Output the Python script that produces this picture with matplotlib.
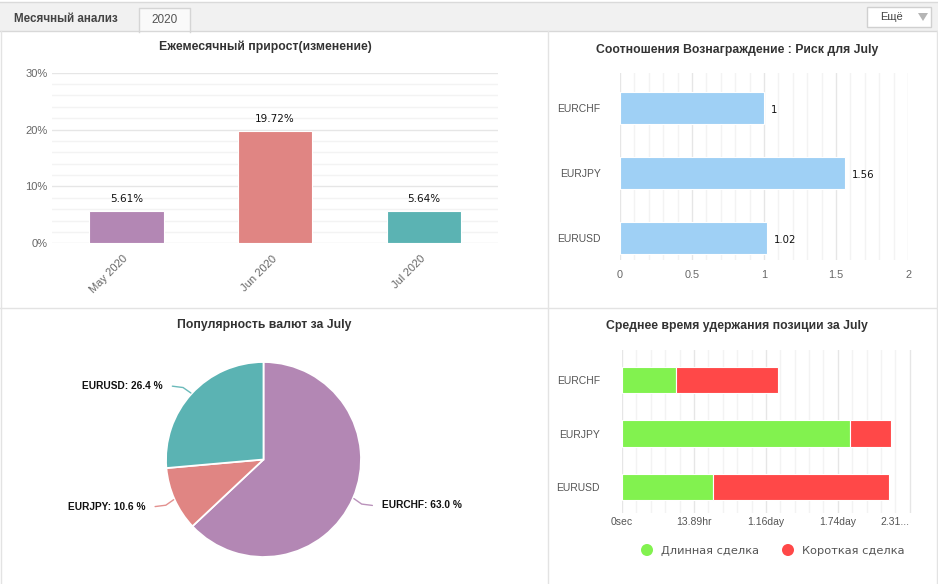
import numpy as np
import matplotlib
matplotlib.use("Agg")
import matplotlib.pyplot as plt
from matplotlib.patches import Rectangle, Polygon, Circle

# ---------------- data ----------------
months = ['May 2020', 'Jun 2020', 'Jul 2020']
growth_pct = [5.61, 19.72, 5.64]
growth_colors = ['#B387B4', '#E08583', '#5BB3B3']
growth_yticks = [0, 10, 20, 30]

rr_pairs = ['EURCHF', 'EURJPY', 'EURUSD']
rr_values = [1, 1.56, 1.02]
rr_labels = ['1', '1.56', '1.02']
rr_xticks = [0, 0.5, 1, 1.5, 2]
rr_xticklabels = ['0', '0.5', '1', '1.5', '2']

pie_pairs = ['EURCHF', 'EURJPY', 'EURUSD']
pie_share = [63.0, 10.6, 26.4]
pie_colors = ['#B387B4', '#E08583', '#5BB3B3']

hold_pairs = ['EURCHF', 'EURJPY', 'EURUSD']
hold_long_hr = [10.4, 44.0, 17.6]
hold_short_hr = [19.7, 7.9, 34.0]
hold_ticks_hr = [0, 13.89, 27.78, 41.67, 55.56]
hold_ticklabels = ['0sec', '13.89hr', '1.16day', '1.74day', '2.31...']
legend_names = ['Длинная сделка', 'Короткая сделка']
long_color = '#82F24F'
short_color = '#FF4848'

# ---------------- figure ----------------
W, H = 938, 584
fig = plt.figure(figsize=(W / 100, H / 100), dpi=100)
fig.patch.set_facecolor('white')

SANS = ['Liberation Sans', 'DejaVu Sans']


def box(x0, y0, x1, y1):
    return [x0 / W, 1 - y1 / H, (x1 - x0) / W, (y1 - y0) / H]


# background / frame axes
bg = fig.add_axes([0, 0, 1, 1], zorder=0)
bg.set_xlim(0, W)
bg.set_ylim(H, 0)
bg.axis('off')

bg.add_patch(Rectangle((0, 2), W, 29, facecolor='#F1F1F1', edgecolor='none'))
bg.plot([0, W], [2, 2], color='#DADADA', lw=1)
bg.plot([0, W], [31, 31], color='#D8D8D8', lw=1)
# tab
bg.add_patch(Rectangle((139, 8), 51, 24, facecolor='#FAFAFA', edgecolor='none'))
bg.plot([139, 139, 190, 190], [32, 8, 8, 32], color='#D5D5D5', lw=1)
bg.text(165, 20, '2020', ha='center', va='center', fontsize=8.5, color='#555555', family=SANS)
bg.text(14, 19, 'Месячный анализ', ha='left', va='center', fontsize=8.4,
        color='#444444', family=SANS, fontweight='bold')
# Ещё button
bg.add_patch(Rectangle((867, 7), 64, 20, facecolor='white', edgecolor='#D0D0D0', lw=1))
bg.text(880, 17, 'Ещё', ha='left', va='center', fontsize=8, color='#444444', family=SANS)
bg.add_patch(Polygon([[918, 13], [928, 13], [923, 21]], closed=True, facecolor='#B5B5B5', edgecolor='none'))
# outer borders and separators
bg.plot([1, 1], [31, H], color='#E3E3E3', lw=1)
bg.plot([937, 937], [31, H], color='#E3E3E3', lw=1)
bg.plot([548, 548], [31, H], color='#E3E3E3', lw=1)
bg.plot([0, W], [308, 308], color='#E3E3E3', lw=1)

# titles
tkw = dict(ha='center', va='center', fontsize=8.8, fontweight='bold', color='#333333', family=SANS)
bg.text(265, 47, 'Ежемесячный прирост(изменение)', **tkw)
bg.text(737, 50, 'Соотношения Вознаграждение : Риск для July', **tkw)
bg.text(264, 325, 'Популярность валют за July', **tkw)
bg.text(737, 326, 'Среднее время удержания позиции за July', **tkw)

# ---------------- chart 1: monthly growth ----------------
ax1 = fig.add_axes(box(52, 72.7, 498, 243.3), zorder=1)
ax1.set_facecolor('none')
x = np.arange(len(months))
ax1.set_xlim(-0.5, len(months) - 0.5)
ax1.set_ylim(0, 30)
for v in np.arange(0, 31, 2):
    major = (v % 10 == 0)
    ax1.axhline(v, color='#E6E6E6' if major else '#F3F3F3', lw=1, zorder=0)
bars = ax1.bar(x, growth_pct, width=0.5, color=growth_colors, edgecolor='white', lw=0.8, zorder=2)
for xi, v in zip(x, growth_pct):
    ax1.annotate(f'{v:.2f}%', (xi, v), xytext=(0, 12.5), textcoords='offset pixels',
                 ha='center', va='center', fontsize=7.5, color='#111111', family=['DejaVu Sans'])
ax1.set_yticks(growth_yticks)
ax1.set_yticklabels([f'{t}%' for t in growth_yticks])
ax1.set_xticks(x)
ax1.set_xticklabels(months, rotation=45, ha='right', va='center', rotation_mode='anchor')
ax1.tick_params(axis='y', length=0, pad=3, labelsize=8, labelcolor='#666666')
ax1.tick_params(axis='x', length=0, pad=10, labelsize=8, labelcolor='#666666')
for lab in ax1.get_xticklabels() + ax1.get_yticklabels():
    lab.set_family(SANS)
for s in ax1.spines.values():
    s.set_visible(False)

# ---------------- chart 2: reward/risk ----------------
ax2 = fig.add_axes(box(620, 73, 908, 260), zorder=1)
ax2.set_facecolor('none')
ax2.set_xlim(0, 2)
ax2.set_ylim(2.338, -0.538)
for v in np.arange(0, 2.001, 0.1):
    major = abs(v * 2 - round(v * 2)) < 1e-6
    ax2.axvline(v, color='#E6E6E6' if major else '#F3F3F3', lw=1, zorder=0)
y2 = np.arange(len(rr_pairs))
ax2.barh(y2, rr_values, height=0.5, color='#9FD0F5', edgecolor='white', lw=0.8, zorder=2)
for yi, v, lab in zip(y2, rr_values, rr_labels):
    ax2.annotate(lab, (v, yi), xytext=(7, -2), textcoords='offset pixels',
                 ha='left', va='center', fontsize=7.3, color='#111111', family=['DejaVu Sans'])
ax2.set_yticks(y2)
ax2.set_yticklabels(rr_pairs)
ax2.set_xticks(rr_xticks)
ax2.set_xticklabels(rr_xticklabels)
ax2.tick_params(axis='y', length=0, pad=14, labelsize=7.5, labelcolor='#555555')
ax2.tick_params(axis='x', length=0, pad=7, labelsize=7.8, labelcolor='#666666')
for lab in ax2.get_xticklabels() + ax2.get_yticklabels():
    lab.set_family(SANS)
for s in ax2.spines.values():
    s.set_visible(False)

# ---------------- chart 3: pie ----------------
R = 97.5
cx, cy = 263.5, 459.5
px0, py0, px1, py1 = 0, 335, 548, 580
ax3 = fig.add_axes(box(px0, py0, px1, py1), zorder=1)
ax3.set_facecolor('none')
wedges, _ = ax3.pie(pie_share, colors=pie_colors, startangle=90, counterclock=False,
                    radius=1, wedgeprops=dict(edgecolor='white', linewidth=1.3))
ax3.set_aspect('auto')
ax3.set_xlim((px0 - cx) / R, (px1 - cx) / R)
ax3.set_ylim(-(py1 - cy) / R, (cy - py0) / R)
ax3.axis('off')
cum = 0.0
total = sum(pie_share)
for name, share, col in zip(pie_pairs, pie_share, pie_colors):
    mid = 90 - (cum + share / 2) / total * 360
    cum += share
    th = np.deg2rad(mid)
    p0 = np.array([np.cos(th), np.sin(th)]) * 1.01
    sx = 1 if p0[0] >= 0 else -1
    ly = p0[1] + 0.07 * np.sign(p0[1])
    xs = [p0[0], p0[0] + sx * 0.08, p0[0] + sx * 0.19]
    ys = [p0[1], p0[1] + (ly - p0[1]) * 0.8, ly]
    ax3.plot(xs, ys, color=col, lw=1, alpha=0.9, solid_capstyle='round')
    ax3.text(p0[0] + sx * 0.29, ly, f'{name}: {share:.1f} %', ha='left' if sx > 0 else 'right',
             va='center', fontsize=7.3, fontweight='bold', color='#111111', family=SANS)

# ---------------- chart 4: holding time ----------------
ax4 = fig.add_axes(box(622, 350, 913, 513), zorder=1)
ax4.set_facecolor('none')
ax4.set_xlim(0, 56.18)
ax4.set_ylim(2.486, -0.561)
step = hold_ticks_hr[1] / 5
for k in range(0, 21):
    v = k * step
    ax4.axvline(v, color='#E6E6E6' if k % 5 == 0 else '#F3F3F3', lw=1, zorder=0)
y4 = np.arange(len(hold_pairs))
ax4.barh(y4, hold_long_hr, height=0.5, color=long_color, edgecolor='white', lw=0.8, zorder=2)
ax4.barh(y4, hold_short_hr, left=hold_long_hr, height=0.5, color=short_color,
         edgecolor='white', lw=0.8, zorder=2)
ax4.set_yticks(y4)
ax4.set_yticklabels(hold_pairs)
ax4.set_xticks(hold_ticks_hr)
ax4.set_xticklabels(hold_ticklabels)
ax4.get_xticklabels()[-1].set_ha('right')
ax4.tick_params(axis='y', length=0, pad=16, labelsize=7.5, labelcolor='#555555')
ax4.tick_params(axis='x', length=0, pad=3, labelsize=7.5, labelcolor='#555555')
for lab in ax4.get_xticklabels() + ax4.get_yticklabels():
    lab.set_family(SANS)
for s in ax4.spines.values():
    s.set_visible(False)

# legend
bg.add_patch(Circle((647, 550), 6, facecolor=long_color, edgecolor='none'))
bg.text(661, 551, legend_names[0], ha='left', va='center', fontsize=8.2, color='#555555',
        family=['DejaVu Sans'])
bg.add_patch(Circle((788, 550), 6, facecolor=short_color, edgecolor='none'))
bg.text(802, 551, legend_names[1], ha='left', va='center', fontsize=8.2, color='#555555',
        family=['DejaVu Sans'])

fig.savefig('out.png', dpi=100, facecolor='white')
